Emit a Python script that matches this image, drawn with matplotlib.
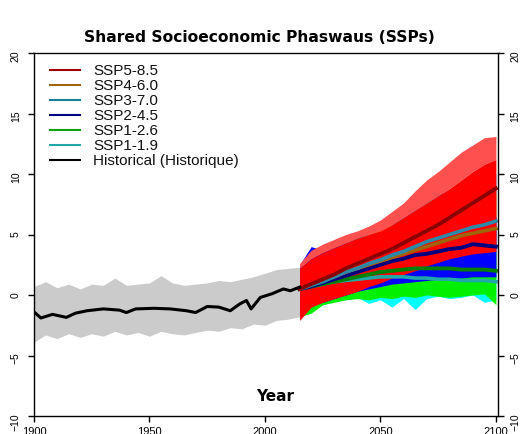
import matplotlib.pyplot as plt

# historical ensemble spread (every 5 years) and ensemble mean
hist_years = list(range(1900, 2016, 5))
hist_upper = [0.7, 1.1, 0.6, 0.9, 0.5, 0.9, 0.8, 1.4, 0.8, 0.9, 1.0, 1.6, 1.0, 0.8,
              0.9, 1.0, 1.2, 1.1, 1.3, 1.5, 1.8, 2.1, 2.2, 2.3]
hist_lower = [-3.9, -3.3, -3.6, -3.2, -3.5, -3.2, -3.4, -3.0, -3.3, -3.1, -3.4, -3.0,
              -3.2, -3.3, -3.1, -2.9, -3.0, -2.7, -2.8, -2.4, -2.5, -2.1, -2.0, -1.8]
hist_mean_years = [1900, 1903, 1908, 1914, 1918, 1923, 1930, 1937, 1940, 1944, 1952, 1959,
                   1966, 1970, 1975, 1980, 1985, 1989, 1992, 1994, 1998, 2003, 2008, 2011, 2015]
hist_mean = [-1.4, -1.9, -1.6, -1.85, -1.5, -1.3, -1.15, -1.25, -1.45, -1.15, -1.1, -1.15,
             -1.3, -1.45, -0.95, -1.0, -1.3, -0.75, -0.45, -1.15, -0.2, 0.1, 0.5, 0.35, 0.65]

# scenario ensembles 2015-2100 (every 5 years)
ssp_years = list(range(2015, 2101, 5))

ssp585_upper = [2.6, 3.7, 4.2, 4.6, 5.0, 5.3, 5.7, 6.2, 6.9, 7.6, 8.6, 9.5, 10.2, 11.0, 11.8, 12.4, 13.0, 13.1]
ssp585_core = [2.2, 3.0, 3.5, 3.9, 4.3, 4.7, 5.0, 5.3, 5.8, 6.4, 7.0, 7.6, 8.2, 8.8, 9.5, 10.2, 10.8, 11.2]
ssp585_lower = [-2.1, -1.0, -0.6, -0.3, 0.0, 0.3, 0.7, 1.0, 1.4, 1.7, 2.0, 2.4, 2.7, 3.0, 3.2, 3.4, 3.5, 3.6]
ssp585_mean = [0.5, 0.9, 1.3, 1.7, 2.2, 2.6, 3.0, 3.4, 3.8, 4.3, 4.8, 5.3, 5.8, 6.4, 7.0, 7.6, 8.2, 8.8]

ssp460_upper = [2.0, 3.0, 3.4, 3.8, 4.2, 4.6, 5.0, 5.4, 5.8, 6.2, 6.6, 7.0, 7.3, 7.6, 7.9, 8.1, 8.3, 8.4]
ssp460_lower = [-1.5, -1.0, -0.6, -0.3, 0.0, 0.3, 0.6, 0.9, 1.1, 1.4, 1.6, 1.8, 2.0, 2.2, 2.3, 2.4, 2.5, 2.5]
ssp460_mean = [0.5, 0.8, 1.2, 1.5, 1.9, 2.2, 2.5, 2.8, 3.1, 3.4, 3.7, 4.0, 4.3, 4.6, 4.9, 5.1, 5.3, 5.5]

ssp370_upper = [2.4, 3.5, 3.8, 4.2, 4.6, 5.0, 5.4, 5.9, 6.4, 6.9, 7.4, 7.9, 8.3, 8.7, 9.1, 9.5, 9.8, 10.0]
ssp370_lower = [-1.6, -1.2, -0.8, -0.5, -0.2, 0.1, 0.4, 0.6, 0.9, 1.1, 1.3, 1.4, 1.5, 1.6, 1.6, 1.5, 1.4, 1.4]
ssp370_mean = [0.5, 0.8, 1.1, 1.5, 1.9, 2.2, 2.6, 2.9, 3.3, 3.6, 4.0, 4.4, 4.7, 5.0, 5.3, 5.6, 5.8, 6.1]

ssp245_upper = [2.5, 4.0, 3.7, 4.2, 4.3, 4.5, 4.8, 5.0, 5.2, 5.5, 5.7, 6.0, 6.1, 6.3, 6.4, 6.5, 6.5, 6.5]
ssp245_lower = [-1.8, -0.9, -0.6, -0.3, 0.0, 0.3, 0.5, 0.7, 0.9, 1.0, 1.1, 1.2, 1.3, 1.4, 1.4, 1.5, 1.5, 1.5]
ssp245_mean = [0.5, 0.7, 1.0, 1.3, 1.6, 1.9, 2.2, 2.5, 2.8, 3.0, 3.3, 3.4, 3.6, 3.8, 3.9, 4.2, 4.1, 4.0]

ssp126_upper = [2.2, 3.2, 3.3, 3.5, 3.6, 3.7, 3.8, 3.9, 3.9, 3.9, 3.9, 3.9, 3.8, 3.8, 3.7, 3.7, 3.6, 3.6]
ssp126_lower = [-1.8, -1.5, -0.8, -0.6, -0.4, -0.3, -0.4, -0.2, -0.3, -0.1, -0.2, 0.0, -0.1, -0.2, -0.1, 0.0, 0.1, -0.8]
ssp126_mean = [0.5, 0.7, 0.9, 1.1, 1.3, 1.5, 1.7, 1.9, 2.0, 2.1, 2.2, 2.2, 2.2, 2.2, 2.1, 2.1, 2.1, 2.0]

ssp119_upper = [2.0, 2.8, 2.9, 3.0, 3.1, 3.2, 3.1, 3.0, 3.0, 2.9, 2.9, 2.8, 2.8, 2.7, 2.7, 2.6, 2.6, 2.5]
ssp119_lower = [-1.2, -1.0, -0.7, -0.5, -0.3, -0.2, -0.7, -0.4, -1.0, -0.3, -1.2, -0.3, -0.1, -0.3, -0.2, 0.0, -0.6, -0.4]
ssp119_mean = [0.5, 0.7, 0.9, 1.1, 1.2, 1.3, 1.4, 1.5, 1.5, 1.5, 1.4, 1.4, 1.3, 1.3, 1.2, 1.2, 1.2, 1.1]

labels = ['SSP5-8.5', 'SSP4-6.0', 'SSP3-7.0', 'SSP2-4.5', 'SSP1-2.6', 'SSP1-1.9', 'Historical (Historique)']
mean_colors = ['#a00000', '#a0640a', '#1a7f9a', '#000080', '#10a010', '#20a8a8', '#000000']

fig = plt.figure(figsize=(5.23, 4.35), dpi=100)
ax = fig.add_axes([34 / 523, 1 - 417 / 435, 463.5 / 523, 363 / 435])

# historical spread
ax.fill_between(hist_years, hist_lower, hist_upper, color='#cbcbcb', lw=0)

# scenario spreads, drawn under the red SSP5-8.5 spread
ax.fill_between(ssp_years, ssp370_lower, ssp370_upper, color='#1ea0f0', lw=0)
ax.fill_between(ssp_years, ssp460_lower, ssp460_upper, color='#ffa500', lw=0)
ax.fill_between(ssp_years, ssp119_lower, ssp119_upper, color='#00ffff', lw=0)
ax.fill_between(ssp_years, ssp126_lower, ssp126_upper, color='#00f000', lw=0)
ax.fill_between(ssp_years, ssp245_lower, ssp245_upper, color='#0000ff', lw=0)
ax.fill_between(ssp_years, ssp585_core, ssp585_upper, color='#ff5050', lw=0)
ax.fill_between(ssp_years, ssp585_lower, ssp585_core, color='#ff0000', lw=0)

# ensemble means
ax.plot(ssp_years, ssp119_mean, color='#20a8a8', lw=2.6)
ax.plot(ssp_years, ssp126_mean, color='#008000', lw=2.8)
ax.plot(ssp_years, ssp245_mean, color='#000080', lw=2.8)
ax.plot(ssp_years, ssp460_mean, color='#a0640a', lw=2.6)
ax.plot(ssp_years, ssp370_mean, color='#2a8aa8', lw=2.6)
ax.plot(ssp_years, ssp585_mean, color='#8b0000', lw=2.8)
ax.plot(hist_mean_years, hist_mean, color='black', lw=2.2)

# legend, no frame
for i, (lab, col) in enumerate(zip(labels, mean_colors)):
    py = 71 + 15 * i
    yy = (417 - py) / 363
    ax.plot([(50 - 34) / 463.5, (80 - 34) / 463.5], [yy, yy], color=col, lw=1.5,
            transform=ax.transAxes, clip_on=False)
    ax.text((93 - 34) / 463.5, yy, lab, transform=ax.transAxes, va='center', ha='left',
            fontsize=11, family='Liberation Sans', color='#111111')

ax.set_xlim(1900, 2100.7)
ax.set_ylim(-10, 20)
ax.set_xticks([1900, 1950, 2000, 2050, 2100])
ax.set_yticks([-10, -5, 0, 5, 10, 15, 20])
ax.tick_params(axis='y', left=True, right=True, labelleft=True, labelright=True,
               labelrotation=90, labelsize=7.5, length=4.5, width=1, pad=5)
ax.tick_params(axis='x', labelsize=8, length=4.5, width=1, pad=3)
for lab in ax.get_yticklabels() + ax.get_xticklabels():
    lab.set_family('Liberation Sans')
for sp in ax.spines.values():
    sp.set_linewidth(1.0)

fig.text(259 / 523, 1 - 38 / 435, 'Shared Socioeconomic Phaswaus (SSPs)',
         ha='center', va='center', fontsize=11.2, fontweight='bold')
fig.text(275 / 523, 1 - 397 / 435, 'Year', ha='center', va='center',
         fontsize=11, fontweight='bold')

plt.savefig('out.png', dpi=100)
